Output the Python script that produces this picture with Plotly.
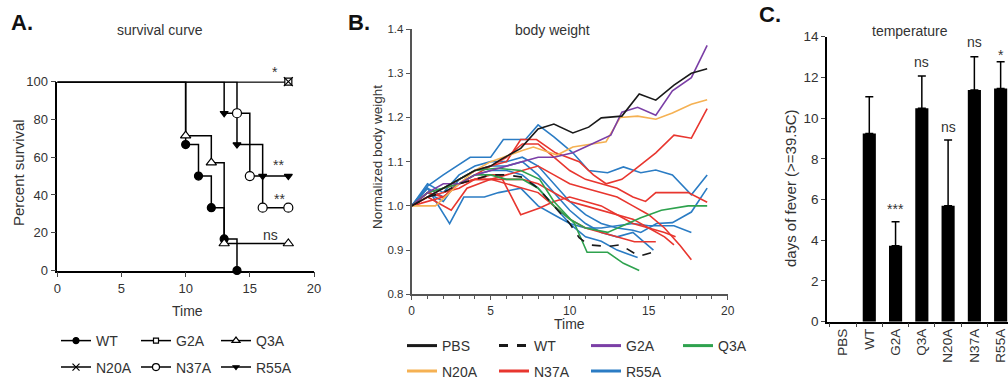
import plotly.graph_objects as go

W, H = 1008, 380
def px(x): return x / W
def py(y): return 1 - y / H

FONT = "Liberation Sans, Arial, Helvetica, sans-serif"
TXT = "#333333"

# ---------------- Panel A: survival ----------------
surv_names = ["WT", "G2A", "Q3A", "N20A", "N37A", "R55A"]
wt_t = [0, 10, 11, 12, 13, 14];      wt_s = [100, 66.7, 50, 33.3, 16.7, 0]
g2a_t = [0, 18];                     g2a_s = [100, 100]
q3a_t = [0, 10, 12, 13, 18];         q3a_s = [100, 71.4, 57.1, 14.3, 14.3]
n20a_t = [0, 18];                    n20a_s = [100, 100]
n37a_t = [0, 14, 15, 16, 18];        n37a_s = [100, 83.3, 50, 33.3, 33.3]
r55a_t = [0, 13, 14, 16, 18];        r55a_s = [100, 83.3, 66.7, 50, 50]
surv_t = [wt_t, g2a_t, q3a_t, n20a_t, n37a_t, r55a_t]
surv_s = [wt_s, g2a_s, q3a_s, n20a_s, n37a_s, r55a_s]
surv_sym = ["circle", "square", "triangle-up", "x-thin-open", "circle", "triangle-down"]
surv_fill = ["black", "white", "white", "black", "white", "black"]
surv_size = [8, 7, 9, 9, 9, 7]
surv_sig = ["**", "**", "ns"]
surv_sig_t = [17.2, 17.3, 16.6]
surv_sig_y = [56, 38, 19]

# ---------------- Panel B: body weight ----------------
pbs_t = [0, 1, 2, 3, 4, 5, 5.6, 6.9, 8.0, 9.0, 10.2, 11.2, 12.0, 13.3, 14.4, 15.45, 16.6, 17.7, 18.7]
pbs_w = [1.0, 1.02, 1.04, 1.06, 1.08, 1.09, 1.104, 1.13, 1.174, 1.185, 1.165, 1.178, 1.199, 1.203, 1.253, 1.239, 1.273, 1.30, 1.31]
wt_bt = [0, 1, 2, 3, 4, 5, 6, 7, 8, 9, 10, 10.6, 11.2, 12.4, 13.2, 14.4, 15.45]
wt_bw = [1.0, 1.02, 1.03, 1.05, 1.06, 1.07, 1.07, 1.065, 1.04, 1.0, 0.96, 0.928, 0.912, 0.908, 0.912, 0.886, 0.897]
g2a_bt = [0, 1, 2, 3, 4, 5, 6, 7, 8, 9.0, 10.2, 11.4, 12.6, 13.3, 14.3, 15.45, 16.5, 17.7, 18.7]
g2a_bw = [1.0, 1.03, 1.05, 1.05, 1.07, 1.08, 1.09, 1.10, 1.11, 1.11, 1.12, 1.14, 1.16, 1.212, 1.223, 1.205, 1.26, 1.29, 1.363]
q3a_bt1 = [0, 1, 2, 3, 4, 5.4, 6.9, 8.1, 9.0, 10.3, 11.1, 12.4, 13.4, 14.4]
q3a_bw1 = [1.0, 1.03, 1.04, 1.06, 1.08, 1.085, 1.08, 1.06, 1.01, 0.96, 0.895, 0.895, 0.87, 0.854]
q3a_bt2 = [0, 1, 2, 3, 4, 5, 6, 7, 8, 9, 10, 11, 12.4, 13.4, 14.5, 15.8, 17.5, 18.7]
q3a_bw2 = [1.0, 1.03, 1.04, 1.05, 1.07, 1.07, 1.06, 1.06, 1.04, 1.0, 0.97, 0.95, 0.94, 0.955, 0.973, 0.99, 1.0, 1.0]
n20a_bt = [0, 1.5, 3, 4, 5, 5.6, 7, 7.7, 9.2, 10.2, 11.2, 12.3, 13.2, 14.3, 15.45, 16.5, 17.7, 18.7]
n20a_bw = [1.0, 1.0, 1.05, 1.08, 1.10, 1.108, 1.125, 1.133, 1.115, 1.133, 1.138, 1.145, 1.20, 1.203, 1.196, 1.21, 1.23, 1.24]
n37a_bt1 = [0, 1, 2, 3, 4, 5, 6, 6.9, 7.9, 9.1, 10.6, 11.5, 12.3, 13.3, 14.05, 15.45, 16.6, 17.7, 18.7]
n37a_bw1 = [1.0, 1.02, 1.04, 1.06, 1.08, 1.09, 1.10, 1.15, 1.15, 1.12, 1.10, 1.07, 1.05, 1.06, 1.08, 1.12, 1.16, 1.153, 1.22]
n37a_bt2 = [0, 1, 2, 3, 4, 5, 6, 7, 8, 9, 10, 11, 12, 13, 14, 14.8, 15.45, 17.5, 18.7]
n37a_bw2 = [1.0, 1.03, 1.02, 1.05, 1.07, 1.09, 1.11, 1.14, 1.14, 1.11, 1.08, 1.06, 1.05, 1.04, 1.02, 1.01, 1.03, 1.03, 1.008]
n37a_bt3 = [0, 1, 2, 3, 4, 5, 5.6, 6.9, 8.1, 9, 10, 11, 12, 13, 14, 15, 16, 16.7]
n37a_bw3 = [1.0, 1.03, 1.04, 1.05, 1.06, 1.07, 1.07, 0.98, 0.995, 1.01, 1.02, 1.01, 1.0, 0.98, 0.96, 0.95, 0.94, 0.93]
n37a_bt4 = [0, 1, 2, 3, 4, 5, 6, 7, 8, 9, 10, 11, 12, 13, 14, 15, 16, 17, 17.7]
n37a_bw4 = [1.0, 1.01, 1.02, 1.05, 1.06, 1.06, 1.07, 1.08, 1.09, 1.07, 1.05, 1.04, 1.03, 1.02, 1.0, 0.98, 0.95, 0.91, 0.878]
n37a_bt5 = [0, 1, 2, 3, 4, 5, 6, 7, 8, 9, 10, 11, 12, 13, 14, 15, 16, 16.6]
n37a_bw5 = [1.0, 1.02, 1.03, 1.04, 1.06, 1.06, 1.06, 1.06, 1.05, 1.03, 1.01, 1.0, 0.99, 0.98, 0.97, 0.95, 0.93, 0.912]
n37a_bt6 = [0, 1, 2.5, 3.5, 5, 6, 7, 8, 9, 10, 11, 12, 13, 14.1, 15.45]
n37a_bw6 = [1.0, 1.02, 0.99, 1.04, 1.06, 1.05, 1.04, 1.03, 1.0, 0.97, 0.95, 0.94, 0.93, 0.919, 0.919]
r55a_bt1 = [0, 1, 2, 3.7, 5, 5.8, 7.2, 8.0, 9.0, 10.2, 11.2, 12.4, 13.4, 14.5, 15.45, 16.5, 17.7, 18.7]
r55a_bw1 = [1.0, 1.045, 1.07, 1.11, 1.11, 1.15, 1.15, 1.183, 1.156, 1.12, 1.08, 1.075, 1.088, 1.075, 1.081, 1.07, 1.025, 1.07]
r55a_bt2 = [0, 1, 2, 3, 4, 5, 6, 7, 8, 9, 10, 11, 12, 13, 14, 14.5, 15.5, 16.5, 17.7, 18.7]
r55a_bw2 = [1.0, 1.05, 1.03, 1.07, 1.09, 1.10, 1.10, 1.11, 1.09, 1.05, 1.01, 0.98, 0.96, 0.95, 0.945, 0.94, 0.96, 0.962, 0.986, 1.04]
r55a_bt3 = [0, 1, 2.4, 3.3, 4.6, 5.5, 6.9, 8, 9, 10, 11, 12, 13, 14, 15, 16.6, 17.7]
r55a_bw3 = [1.0, 1.04, 0.96, 1.02, 1.02, 1.03, 1.04, 1.0, 0.98, 0.96, 0.95, 0.95, 0.955, 0.96, 0.955, 0.955, 0.94]
r55a_bt4 = [0, 1, 2, 3, 4, 5, 6, 7, 8, 9, 10, 11, 12, 13, 14.3]
r55a_bw4 = [1.0, 1.04, 1.02, 1.05, 1.07, 1.08, 1.08, 1.07, 1.04, 1.0, 0.96, 0.93, 0.92, 0.90, 0.883]
r55a_bt5 = [0, 1, 2, 3, 4, 5, 6, 7, 8, 9, 10, 11, 12, 13, 14, 15.3]
r55a_bw5 = [1.0, 1.03, 1.01, 1.06, 1.08, 1.09, 1.09, 1.10, 1.07, 1.03, 0.99, 0.96, 0.94, 0.93, 0.94, 0.90]

bw_groups = ["PBS", "WT", "G2A", "Q3A", "N20A", "N37A", "R55A"]
bw_colors = {"PBS": "#1a1a1a", "WT": "#1a1a1a", "G2A": "#7b3fa6", "Q3A": "#2ea24e",
             "N20A": "#f5b153", "N37A": "#e8362f", "R55A": "#2b7cc4"}
bw_series = [
    ("R55A", r55a_bt1, r55a_bw1), ("R55A", r55a_bt2, r55a_bw2), ("R55A", r55a_bt3, r55a_bw3),
    ("R55A", r55a_bt4, r55a_bw4), ("R55A", r55a_bt5, r55a_bw5),
    ("N37A", n37a_bt1, n37a_bw1), ("N37A", n37a_bt2, n37a_bw2), ("N37A", n37a_bt3, n37a_bw3),
    ("N37A", n37a_bt4, n37a_bw4), ("N37A", n37a_bt5, n37a_bw5), ("N37A", n37a_bt6, n37a_bw6),
    ("Q3A", q3a_bt1, q3a_bw1), ("Q3A", q3a_bt2, q3a_bw2),
    ("N20A", n20a_bt, n20a_bw), ("G2A", g2a_bt, g2a_bw),
    ("WT", wt_bt, wt_bw), ("PBS", pbs_t, pbs_w),
]

# ---------------- Panel C: fever ----------------
fever_cats = ["PBS", "WT", "G2A", "Q3A", "N20A", "N37A", "R55A"]
fever_days = [0, 9.25, 3.73, 10.48, 5.70, 11.38, 11.46]
fever_err = [0, 1.8, 1.18, 1.59, 3.22, 1.64, 1.31]
fever_sig = ["", "", "***", "ns", "ns", "ns", "*"]
fever_sig_y = [0, 0, 5.55, 12.77, 9.58, 13.75, 13.1]

fig = go.Figure()

# Panel A traces
for i, name in enumerate(surv_names):
    fig.add_trace(go.Scatter(x=surv_t[i], y=surv_s[i], mode="lines", line=dict(color="black", width=1.5, shape="hv"),
                             xaxis="x", yaxis="y", showlegend=False, cliponaxis=False, hoverinfo="skip"))
for i, name in enumerate(surv_names):
    fig.add_trace(go.Scatter(x=surv_t[i][1:], y=surv_s[i][1:], mode="markers",
                             marker=dict(symbol=surv_sym[i], size=surv_size[i], color=surv_fill[i],
                                         line=dict(color="black", width=1.2)),
                             xaxis="x", yaxis="y", showlegend=False, cliponaxis=False))
for i, name in enumerate(surv_names):
    fig.add_trace(go.Scatter(x=[None], y=[None], mode="lines+markers", name=name,
                             line=dict(color="black", width=1.5),
                             marker=dict(symbol=surv_sym[i], size=max(surv_size[i] - 2, 5), color=surv_fill[i],
                                         line=dict(color="black", width=1.2)),
                             xaxis="x", yaxis="y", legend="legend" if i < 3 else "legend2"))

# Panel B traces
for grp, t, w in bw_series:
    fig.add_trace(go.Scatter(x=t, y=w, mode="lines", xaxis="x2", yaxis="y2", showlegend=False,
                             line=dict(color=bw_colors[grp], width=1.6, dash="dash" if grp == "WT" else "solid")))
for i, grp in enumerate(bw_groups):
    fig.add_trace(go.Scatter(x=[None], y=[None], mode="lines", name=grp, xaxis="x2", yaxis="y2",
                             line=dict(color=bw_colors[grp], width=3, dash="dash" if grp == "WT" else "solid"),
                             legend="legend3" if i < 4 else "legend4"))

# Panel C (zero-day groups draw no bar and no error cap)
bar_y = [v if v else None for v in fever_days]
bar_err = [e if v else None for v, e in zip(fever_days, fever_err)]
fig.add_trace(go.Bar(x=fever_cats, y=bar_y, width=0.5, marker=dict(color="black", line=dict(width=0)),
                     error_y=dict(type="data", array=bar_err, arrayminus=[0] * 7, symmetric=False,
                                  color="black", thickness=1.5, width=4),
                     xaxis="x3", yaxis="y3", showlegend=False))

ann = []
def txt(x, y, s, size=14, bold=False, angle=0, xref="paper", yref="paper", color=TXT):
    ann.append(dict(x=x, y=y, xref=xref, yref=yref, text=("<b>%s</b>" % s) if bold else s, showarrow=False,
                    xanchor="center", yanchor="middle", textangle=angle,
                    font=dict(family=FONT, size=size, color=color)))

txt(px(22), py(23), "A.", size=22, bold=True, color="#111")
txt(px(160), py(30), "survival curve", 14)
txt(px(18), py(173), "Percent survival", 15, angle=-90)
txt(px(187), py(310.5), "Time", 14)
txt(px(275), py(72), "*", 14)
for s, t, y in zip(surv_sig, surv_sig_t, surv_sig_y):
    txt(t, y, s, 14, xref="x", yref="y")

txt(px(359), py(23), "B.", size=22, bold=True, color="#111")
txt(px(552), py(30), "body weight", 14)
txt(px(377), py(157), "Normalized body weight", 13.5, angle=-90)
txt(px(569), py(324), "Time", 14)

txt(px(770), py(14), "C.", size=22, bold=True, color="#111")
txt(px(910), py(31), "temperature", 14)
txt(px(790), py(188), "days of fever (>=39.5C)", 15, angle=-90)
for c, s, y in zip(fever_cats, fever_sig, fever_sig_y):
    if s:
        txt(c, y, s, 14, xref="x3", yref="y3")

tickfont = lambda s: dict(family=FONT, size=s, color=TXT)
leg = lambda x, y: dict(x=px(x), y=py(y), xanchor="left", yanchor="middle", orientation="h",
                        bgcolor="rgba(0,0,0,0)", borderwidth=0, font=dict(family=FONT, size=14, color=TXT),
                        itemwidth=30, tracegroupgap=0)

fig.update_layout(
    width=W, height=H, margin=dict(l=0, r=0, t=0, b=0, autoexpand=False),
    paper_bgcolor="white", plot_bgcolor="white",
    font=dict(family=FONT, color=TXT),
    xaxis=dict(domain=[px(57.3), px(314)], range=[0, 20], tickvals=[0, 5, 10, 15, 20], ticks="outside",
               ticklen=5, tickwidth=1.3, showline=True, linecolor="black", linewidth=1.5, showgrid=False,
               zeroline=False, tickfont=tickfont(13), anchor="y"),
    yaxis=dict(domain=[py(270.5), py(81.7)], range=[0, 100], tickvals=[0, 20, 40, 60, 80, 100], ticks="outside",
               ticklen=5, tickwidth=1.3, showline=True, linecolor="black", linewidth=1.5, showgrid=False,
               zeroline=False, tickfont=tickfont(13), anchor="x"),
    xaxis2=dict(domain=[px(411.7), px(727.7)], range=[0, 20], tickvals=[0, 5, 10, 15, 20], ticks="outside",
                ticklen=4, tickwidth=1.2, showline=True, linecolor="#555", linewidth=2, showgrid=False,
                zeroline=False, tickfont=tickfont(12), anchor="y2", tickcolor="#555",
                minor=dict(dtick=1, ticks="outside", ticklen=3, tickcolor="#555", tickwidth=1, showgrid=False)),
    yaxis2=dict(domain=[py(294.3), py(29)], range=[0.8, 1.4], tickvals=[0.8, 0.9, 1.0, 1.1, 1.2, 1.3, 1.4],
                ticktext=["0.8", "0.9", "1.0", "1.1", "1.2", "1.3", "1.4"], ticks="outside", ticklen=4,
                tickwidth=1.2, showline=True, linecolor="#555", linewidth=2, showgrid=False, zeroline=False,
                tickfont=tickfont(11.5), anchor="x2", tickcolor="#555"),
    xaxis3=dict(domain=[px(827), 1.0], range=[-0.61, 6.28], type="category", ticks="outside", tickson="boundaries",
                ticklen=4, tickwidth=1.2, showline=True, linecolor="black", linewidth=1.5, showgrid=False,
                zeroline=False, tickfont=tickfont(13.5), tickangle=-90, anchor="y3"),
    yaxis3=dict(domain=[py(321.7), py(36.7)], range=[0, 14], tickvals=list(range(0, 15, 2)), ticks="outside",
                ticklen=4, tickwidth=1.2, showline=True, linecolor="black", linewidth=1.5, showgrid=False,
                zeroline=False, tickfont=tickfont(13.5), anchor="x3"),
    legend=dict(leg(56, 341), entrywidth=35),
    legend2=dict(leg(56, 367.5), entrywidth=35),
    legend3=dict(leg(402, 346), entrywidth=47),
    legend4=dict(leg(402, 371.5), entrywidth=47),
    annotations=ann,
)

fig.write_html("out.html")
